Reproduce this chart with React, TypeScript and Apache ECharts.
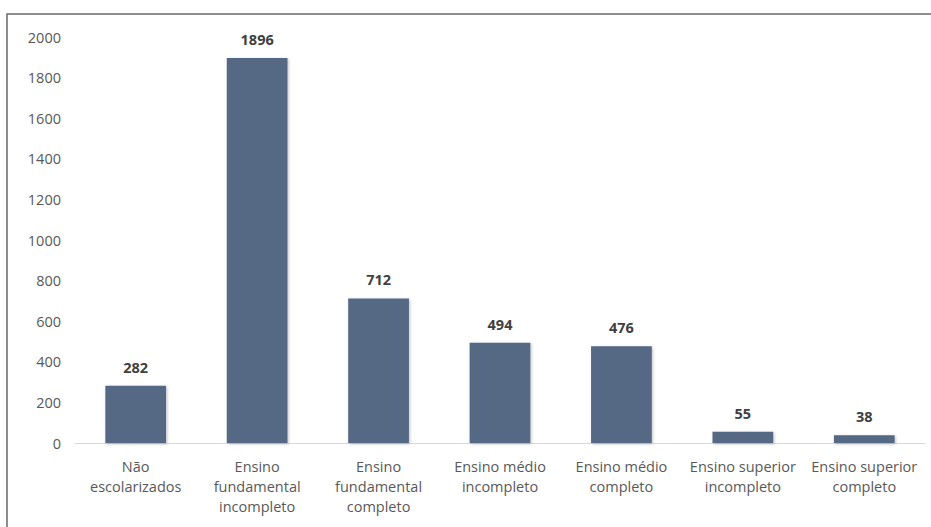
import React, { useEffect, useRef } from "react";
import * as echarts from "echarts";

const categories = [
  "Não\nescolarizados",
  "Ensino\nfundamental\nincompleto",
  "Ensino\nfundamental\ncompleto",
  "Ensino médio\nincompleto",
  "Ensino médio\ncompleto",
  "Ensino superior\nincompleto",
  "Ensino superior\ncompleto",
];
const values = [282, 1896, 712, 494, 476, 55, 38];

export default function App() {
  const ref = useRef<HTMLDivElement>(null);
  useEffect(() => {
    if (!ref.current) return;
    const chart = echarts.init(ref.current, null, { renderer: "svg" });
    const font = "'Open Sans', 'Noto Sans', sans-serif";
    chart.setOption({
      animation: false,
      backgroundColor: "#ffffff",
      graphic: [
        {
          type: "rect",
          shape: { x: 7, y: 14, width: 1000, height: 600 },
          style: { fill: "none", stroke: "#6a6a6a", lineWidth: 1.5 },
          silent: true,
        },
      ],
      grid: { left: 75, right: 6, top: 37, bottom: 84 },
      xAxis: {
        type: "category",
        data: categories,
        axisLine: { lineStyle: { color: "#d9d9d9", width: 1 } },
        axisTick: { show: false },
        axisLabel: {
          color: "#595959",
          fontSize: 14.5,
          fontFamily: font,
          lineHeight: 20,
          margin: 13,
          interval: 0,
        },
      },
      yAxis: {
        type: "value",
        min: 0,
        max: 2000,
        interval: 200,
        splitLine: { show: false },
        axisLine: { show: false },
        axisTick: { show: false },
        axisLabel: {
          color: "#595959",
          fontSize: 14.5,
          fontFamily: font,
          margin: 14,
          formatter: (v: number) => String(v),
        },
      },
      series: [
        {
          type: "bar",
          data: values,
          barWidth: "50%",
          itemStyle: {
            color: "#546784",
            shadowColor: "rgba(0,0,0,0.25)",
            shadowBlur: 3,
            shadowOffsetX: 1,
            shadowOffsetY: 1,
          },
          label: {
            show: true,
            position: "top",
            distance: 11,
            color: "#404040",
            fontWeight: "bold",
            fontSize: 14.5,
            fontFamily: font,
          },
        },
      ],
    });
    return () => chart.dispose();
  }, []);
  return (
    <div
      ref={ref}
      style={{ position: "fixed", left: 0, top: 0, width: 931, height: 527 }}
    />
  );
}
